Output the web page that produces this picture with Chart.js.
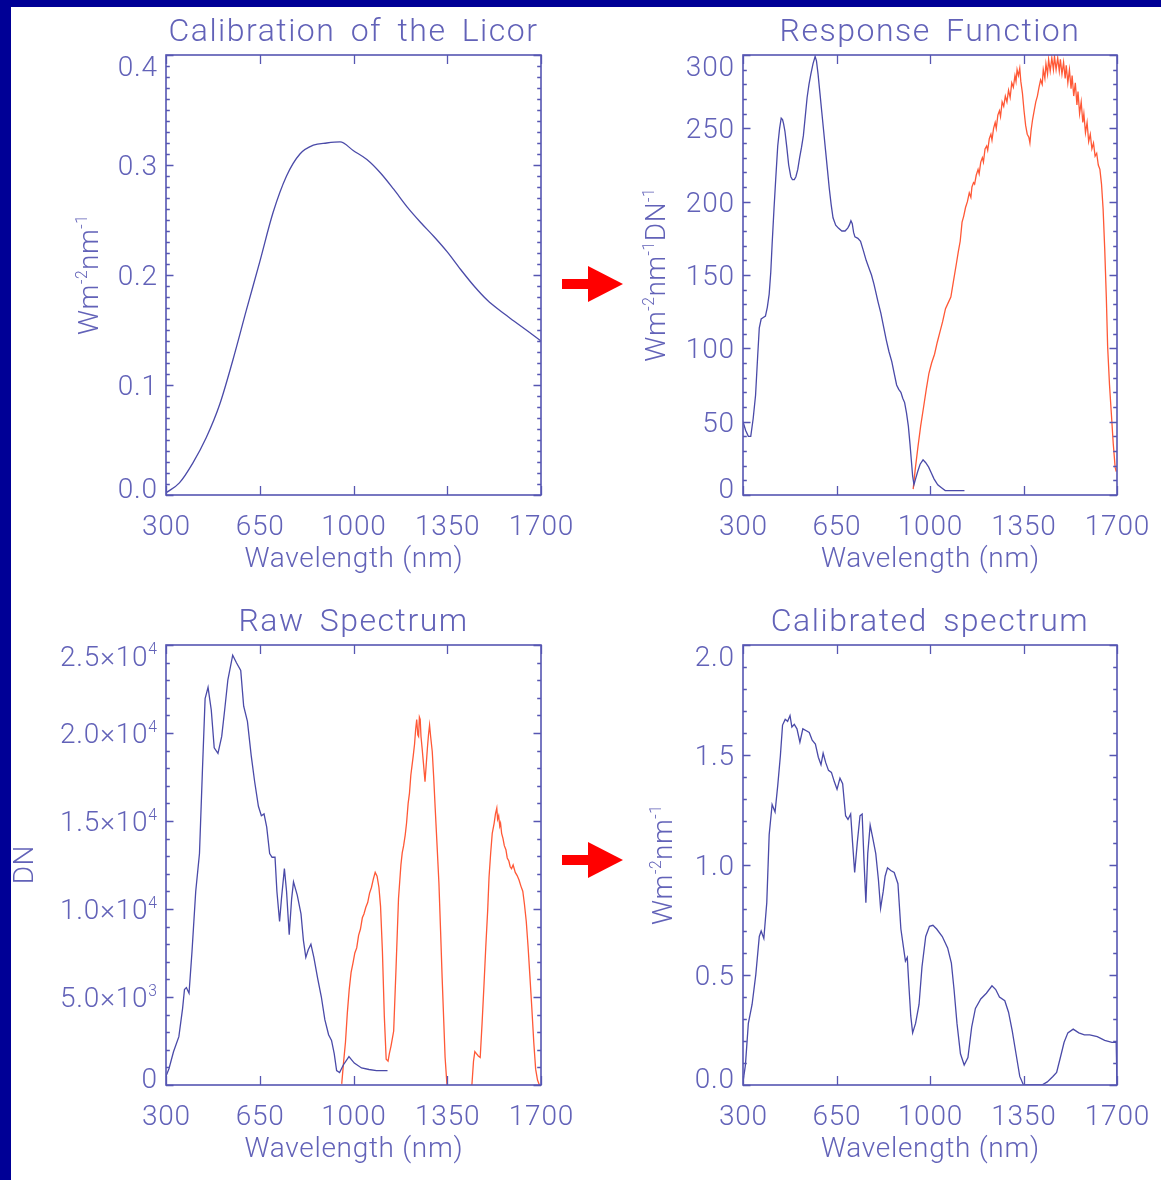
<!DOCTYPE html>
<html>
<head>
<meta charset="utf-8">
<script src="https://cdn.jsdelivr.net/npm/chart.js@4.4.1/dist/chart.umd.min.js"></script>
<style>
  html, body { margin: 0; padding: 0; }
  body { width: 1161px; height: 1180px; background: #000096; position: relative; overflow: hidden; }
  #sheet { position: absolute; left: 11px; top: 7px; right: 0; bottom: 0; background: #ffffff; }
  canvas.panel { position: absolute; }
  .shaft { position: absolute; width: 27px; height: 10px; background: #ff0000; }
  .head { position: absolute; width: 0; height: 0; border-top: 18px solid transparent; border-bottom: 18px solid transparent; border-left: 35px solid #ff0000; }
</style>
</head>
<body>
<div id="sheet"></div>
<canvas id="c1" class="panel" width="580" height="590" style="left:0;top:0;width:580px;height:590px"></canvas>
<canvas id="c2" class="panel" width="581" height="590" style="left:580px;top:0;width:581px;height:590px"></canvas>
<canvas id="c3" class="panel" width="580" height="590" style="left:0;top:590px;width:580px;height:590px"></canvas>
<canvas id="c4" class="panel" width="581" height="590" style="left:580px;top:590px;width:581px;height:590px"></canvas>
<div class="shaft" style="left:562px;top:279px"></div>
<div class="head" style="left:588px;top:266px"></div>
<div class="shaft" style="left:562px;top:855px"></div>
<div class="head" style="left:588px;top:842px"></div>
<script>
// ---------- wavelength axis ----------
const xTicks = [300, 650, 1000, 1350, 1700];

// ---------- Calibration of the Licor (lamp irradiance) ----------
const lampNm = [300,350,400,450,500,550,600,650,700,750,800,850,900,950,1000,1050,1100,1150,1200,1250,1300,1350,1400,1450,1500,1550,1600,1650,1700];
const lampIrr = [0.002,0.011,0.029,0.052,0.082,0.123,0.168,0.212,0.257,0.290,0.310,0.318,0.320,0.321,0.313,0.305,0.293,0.278,0.262,0.248,0.235,0.221,0.205,0.190,0.177,0.167,0.158,0.149,0.140];
const lampTicks = [0, 0.1, 0.2, 0.3, 0.4];

// ---------- Response function: silicon (blue) and InGaAs (red) ----------
const respSiNm = [300,310,320,329,338,347,355,361,368,376,384,391,398,404,409,416,423,430,437,443,448,452,457,464,471,479,485,492,498,505,512,519,526,533,540,547,554,562,570,575,581,588,595,602,609,616,623,630,637,647,657,670,682,692,698,704,709,714,719,730,740,750,761,771,781,790,795,805,816,826,836,846,857,866,875,883,891,898,905,912,919,925,930,935,940,946,954,963,974,984,995,1005,1015,1029,1043,1057,1071,1100,1129];
const respSi = [50,44,40,40,52,68,95,114,120,121,122,128,137,152,171,195,217,238,250,257,256,253,248,237,225,217,215,215,217,222,230,237,245,258,271,280,287,294,299,296,287,274,261,248,235,222,209,198,189,184,182,180,180,182,184,187,185,179,176,175,173,167,160,155,150,144,140,132,124,115,106,98,91,83,75,72,70,66,63,56,47,35,24,13,7,11,16,21,24,22,19,15,11,7,5,3,3,3,3];
const respIgNm = [937,945,955,965,976,986,996,1006,1017,1027,1037,1047,1058,1068,1078,1088,1099,1106,1113,1120,1126,1133,1140,1147,1153,1157,1163,1167,1173,1180,1184,1190,1196,1200,1206,1212,1216,1222,1228,1232,1238,1244,1248,1254,1260,1264,1270,1276,1282,1288,1294,1300,1306,1312,1318,1322,1326,1331,1336,1340,1346,1352,1358,1364,1370,1374,1378,1384,1390,1396,1402,1408,1414,1420,1424,1430,1434,1440,1444,1450,1456,1462,1466,1472,1478,1484,1488,1494,1500,1506,1510,1516,1522,1528,1532,1538,1544,1550,1554,1560,1566,1572,1576,1582,1588,1594,1600,1606,1612,1618,1624,1630,1636,1642,1648,1654,1660,1665,1672,1679,1686,1693,1697];
const respIg = [4,18,33,47,60,72,83,90,96,104,111,118,127,131,135,146,158,166,173,186,190,196,200,206,203,210,213,212,218,222,219,227,230,227,236,238,235,243,246,242,250,254,250,259,262,258,268,265,272,268,276,271,281,278,286,282,290,286,291,282,274,262,252,246,244,240,248,256,262,268,272,278,283,280,290,284,294,287,297,289,298,290,299,290,298,289,297,287,295,284,293,281,290,277,286,272,281,266,275,260,268,254,260,247,254,241,246,236,240,231,233,225,222,212,195,168,135,101,75,55,35,19,16];
const respTicks = [0, 50, 100, 150, 200, 250, 300];

// ---------- Raw spectrum (DN) ----------
const rawSiNm = [300,311,328,348,362,369,376,386,397,411,425,436,446,457,469,480,494,508,519,531,549,563,579,590,604,618,631,645,656,666,676,687,696,707,714,724,731,742,750,760,769,776,790,804,813,822,831,841,852,866,880,893,907,918,928,937,948,962,983,1003,1030,1058,1086,1127];
const rawSi = [494,923,1888,2746,4356,5429,5536,5214,7574,11007,13153,17874,21950,22594,21307,19161,18839,19805,21307,23023,24418,23989,23560,21522,20663,18732,17230,15835,15299,15406,14655,13153,12939,12939,11007,9291,10578,12295,11007,8540,10578,11544,10793,9720,8218,7252,7682,8003,7252,6072,4999,3712,2854,2532,1781,815,708,1137,1609,1245,966,880,815,815];
const rawIgNm = [956,963,970,977,984,991,998,1005,1012,1019,1026,1033,1039,1046,1053,1060,1067,1074,1081,1088,1095,1101,1108,1115,1122,1129,1134,1140,1150,1159,1168,1177,1182,1187,1193,1198,1204,1209,1214,1218,1223,1228,1232,1236,1240,1243,1246,1249,1252,1256,1261,1267,1271,1276,1280,1284,1288,1294,1300,1305,1312,1319,1325,1331,1337,1342,1349,
                 1396,
                 1442,1448,1453,1459,1466,1473,1480,1487,1494,1501,1506,1512,1518,1525,1530,1535,1538,1542,1546,1549,1553,1558,1563,1569,1574,1580,1585,1590,1596,1604,1611,1618,1625,1632,1638,1645,1652,1659,1666,1673,1680,1687,1694];
const rawIg = [64,1300,2425,4100,5429,6400,6931,7500,7789,8500,8862,9500,9720,10100,10364,10900,11222,11700,12080,11866,11222,10149,7574,3927,1459,1352,1800,2210,3068,6716,10578,12509,13200,13582,14200,14870,16000,16586,17600,18088,18700,19375,20200,20770,19900,19805,20900,20770,19800,19161,18300,17230,18100,19161,19900,20448,19800,18947,17300,15728,13600,11437,8800,6072,3600,1566,0,
              null,
              0,1352,1900,1781,1650,1566,3500,5643,7900,9935,11800,13153,14300,14870,15400,15728,15100,15299,14700,14870,14300,14011,13600,13368,12900,12724,12400,12295,12500,12080,11900,11651,11300,11007,10300,9291,7800,6072,4300,2425,900,279,0];
const rawTicks = [0, 5000, 10000, 15000, 20000, 25000];

// ---------- Calibrated spectrum ----------
const calNm = [299,309,320,334,348,361,368,378,389,398,409,420,430,440,448,458,467,476,483,492,502,513,524,537,548,559,571,582,592,600,610,620,631,642,652,663,673,684,693,703,710,718,728,738,746,753,760,767,776,786,797,807,815,825,832,841,853,866,880,891,901,908,915,921,928,935,946,959,970,984,998,1011,1025,1046,1066,1080,1090,1101,1114,1128,1142,1156,1170,1190,1211,1232,1246,1260,1280,1294,1308,1322,1336,1350,1385,1419,1439,1460,1474,1488,1502,1516,1536,1557,1578,1598,1626,1654,1681,1697,1700];
const calIrr = [0.005,0.09,0.28,0.366,0.503,0.675,0.70,0.666,0.829,1.138,1.275,1.241,1.361,1.498,1.636,1.662,1.653,1.679,1.627,1.639,1.619,1.558,1.619,1.61,1.602,1.567,1.55,1.49,1.456,1.508,1.464,1.43,1.421,1.378,1.344,1.395,1.37,1.224,1.207,1.232,1.104,0.966,1.104,1.224,1.232,1.018,0.829,1.052,1.181,1.121,1.052,0.932,0.803,0.881,0.949,0.987,0.975,0.966,0.915,0.709,0.623,0.563,0.58,0.451,0.314,0.237,0.28,0.366,0.537,0.675,0.721,0.726,0.709,0.675,0.623,0.554,0.434,0.28,0.142,0.091,0.125,0.263,0.348,0.391,0.417,0.451,0.434,0.40,0.383,0.331,0.245,0.142,0.039,0.0,0.0,0.0,0.014,0.039,0.057,0.125,0.194,0.237,0.254,0.237,0.228,0.228,0.22,0.203,0.194,0.194,0.0];
const calTicks = [0, 0.5, 1.0, 1.5, 2.0];

// ---------- styling ----------
const INK = '#5656b2';
const TEXT = '#6262b8';
const BLUE = '#4a4aa8';
const RED = '#ff5836';
const FAMILY = 'Roboto, "DejaVu Sans", sans-serif';
const WEIGHT = 300;

function pts(xs, ys) { return xs.map((x, i) => ({ x: x, y: ys[i] })); }

// text made of plain and superscript pieces: [[text, isSup], ...]
function drawRich(ctx, parts, x, y, size, align, spacing) {
  const supSize = size * 0.56;
  ctx.letterSpacing = (spacing || 0) + 'px';
  const widths = parts.map(([t, s]) => {
    ctx.font = `${WEIGHT} ${s ? supSize : size}px ${FAMILY}`;
    return ctx.measureText(t).width;
  });
  const total = widths.reduce((a, b) => a + b, 0) - (spacing || 0);
  let cx = align === 'right' ? x - total : align === 'center' ? x - total / 2 : x;
  ctx.textAlign = 'left';
  ctx.textBaseline = 'alphabetic';
  parts.forEach(([t, s], i) => {
    ctx.font = `${WEIGHT} ${s ? supSize : size}px ${FAMILY}`;
    ctx.fillText(t, cx, s ? y - size * 0.40 : y);
    cx += widths[i];
  });
  ctx.letterSpacing = '0px';
}

// boxed axes with inward ticks on all four sides, labels and titles
const boxedAxes = {
  id: 'boxedAxes',
  afterDatasetsDraw(chart, args, o) {
    const { ctx, chartArea: a } = chart;
    const xs = chart.scales.x, ys = chart.scales.y;
    ctx.save();
    ctx.strokeStyle = INK;
    ctx.lineWidth = 1.6;
    ctx.strokeRect(a.left, a.top, a.right - a.left, a.bottom - a.top);

    ctx.lineWidth = 1.3;
    ctx.beginPath();
    o.xTicks.forEach(v => {
      const p = Math.round(xs.getPixelForValue(v)) + 0.5;
      ctx.moveTo(p, a.bottom); ctx.lineTo(p, a.bottom - 9);
      ctx.moveTo(p, a.top); ctx.lineTo(p, a.top + 9);
    });
    o.yTicks.forEach((v, i) => {
      const p = Math.round(ys.getPixelForValue(v)) + 0.5;
      ctx.moveTo(a.left, p); ctx.lineTo(a.left + 7.5, p);
      ctx.moveTo(a.right, p); ctx.lineTo(a.right - 7.5, p);
      if (i < o.yTicks.length - 1) {
        const step = (o.yTicks[i + 1] - v) / o.yMinor;
        for (let k = 1; k < o.yMinor; k++) {
          const q = Math.round(ys.getPixelForValue(v + k * step)) + 0.5;
          ctx.moveTo(a.left, q); ctx.lineTo(a.left + 3.8, q);
          ctx.moveTo(a.right, q); ctx.lineTo(a.right - 3.8, q);
        }
      }
    });
    ctx.stroke();

    ctx.fillStyle = TEXT;
    // x tick labels
    o.xTicks.forEach(v => {
      drawRich(ctx, [[String(v), 0]], xs.getPixelForValue(v), a.bottom + 40, 28, 'center', 0.8);
    });
    // y tick labels, kept inside the box height at both ends
    o.yTicks.forEach(v => {
      let c = ys.getPixelForValue(v);
      c = Math.min(Math.max(c, a.top + 10.5), a.bottom - 7.5);
      drawRich(ctx, o.yLabel(v), a.left - 9, c + 10, 28, 'right', 0.8);
    });
    const mid = (a.left + a.right) / 2;
    // x axis title
    drawRich(ctx, [['Wavelength (nm)', 0]], mid, a.bottom + 72, 28, 'center', 0.7);
    // panel title
    ctx.font = `${WEIGHT} 32px ${FAMILY}`;
    ctx.letterSpacing = '1.5px';
    ctx.wordSpacing = '6px';
    ctx.textAlign = 'center';
    ctx.textBaseline = 'alphabetic';
    ctx.fillText(o.title, mid, a.top - 14);
    ctx.wordSpacing = '0px';
    ctx.letterSpacing = '0px';
    // y axis title, reading upwards
    ctx.translate(o.yTitleX, (a.top + a.bottom) / 2);
    ctx.rotate(-Math.PI / 2);
    drawRich(ctx, o.yTitle, 0, 0, 28, 'center', 0.5);
    ctx.restore();
  }
};

function line(data, color) {
  return { data: data, borderColor: color, borderWidth: 1.3, pointRadius: 0, fill: false, tension: 0, spanGaps: false };
}

function makePanel(id, pad, datasets, yMax, frame) {
  new Chart(document.getElementById(id), {
    type: 'line',
    data: { datasets: datasets },
    plugins: [boxedAxes],
    options: {
      responsive: false,
      animation: false,
      events: [],
      layout: { padding: pad },
      plugins: { legend: { display: false }, tooltip: { enabled: false }, title: { display: false }, boxedAxes: frame },
      scales: {
        x: { type: 'linear', min: 300, max: 1700, display: false },
        y: { type: 'linear', min: 0, max: yMax, display: false }
      }
    }
  });
}

const padL = { left: 166, right: 39, top: 55, bottom: 95 };
const padR = { left: 163, right: 44, top: 55, bottom: 95 };
const fixed1 = v => [[v.toFixed(1), 0]];
const sci = v => {
  if (v === 0) return [['0', 0]];
  const e = Math.floor(Math.log10(v) + 1e-9);
  return [[(v / Math.pow(10, e)).toFixed(1) + '\u00d710', 0], [String(e), 1]];
};
const wmnm = [['Wm', 0], ['-2', 1], ['nm', 0], ['-1', 1]];

makePanel('c1', padL,
  [Object.assign(line(pts(lampNm, lampIrr), BLUE), { cubicInterpolationMode: 'monotone' })],
  0.4,
  { title: 'Calibration of the Licor', xTicks: xTicks, yTicks: lampTicks, yMinor: 10, yLabel: fixed1, yTitle: wmnm, yTitleX: 98 });

makePanel('c2', padR,
  [line(pts(respSiNm, respSi), BLUE), line(pts(respIgNm, respIg), RED)],
  300,
  { title: 'Response Function', xTicks: xTicks, yTicks: respTicks, yMinor: 5, yLabel: v => [[String(v), 0]],
    yTitle: [['Wm', 0], ['-2', 1], ['nm', 0], ['-1', 1], ['DN', 0], ['-1', 1]], yTitleX: 85 });

makePanel('c3', padL,
  [line(pts(rawSiNm, rawSi), BLUE), line(pts(rawIgNm, rawIg), RED)],
  25000,
  { title: 'Raw Spectrum', xTicks: xTicks, yTicks: rawTicks, yMinor: 5, yLabel: sci, yTitle: [['DN', 0]], yTitleX: 33 });

makePanel('c4', padR,
  [line(pts(calNm, calIrr), BLUE)],
  2.0,
  { title: 'Calibrated spectrum', xTicks: xTicks, yTicks: calTicks, yMinor: 5, yLabel: fixed1, yTitle: wmnm, yTitleX: 92 });
</script>
</body>
</html>
